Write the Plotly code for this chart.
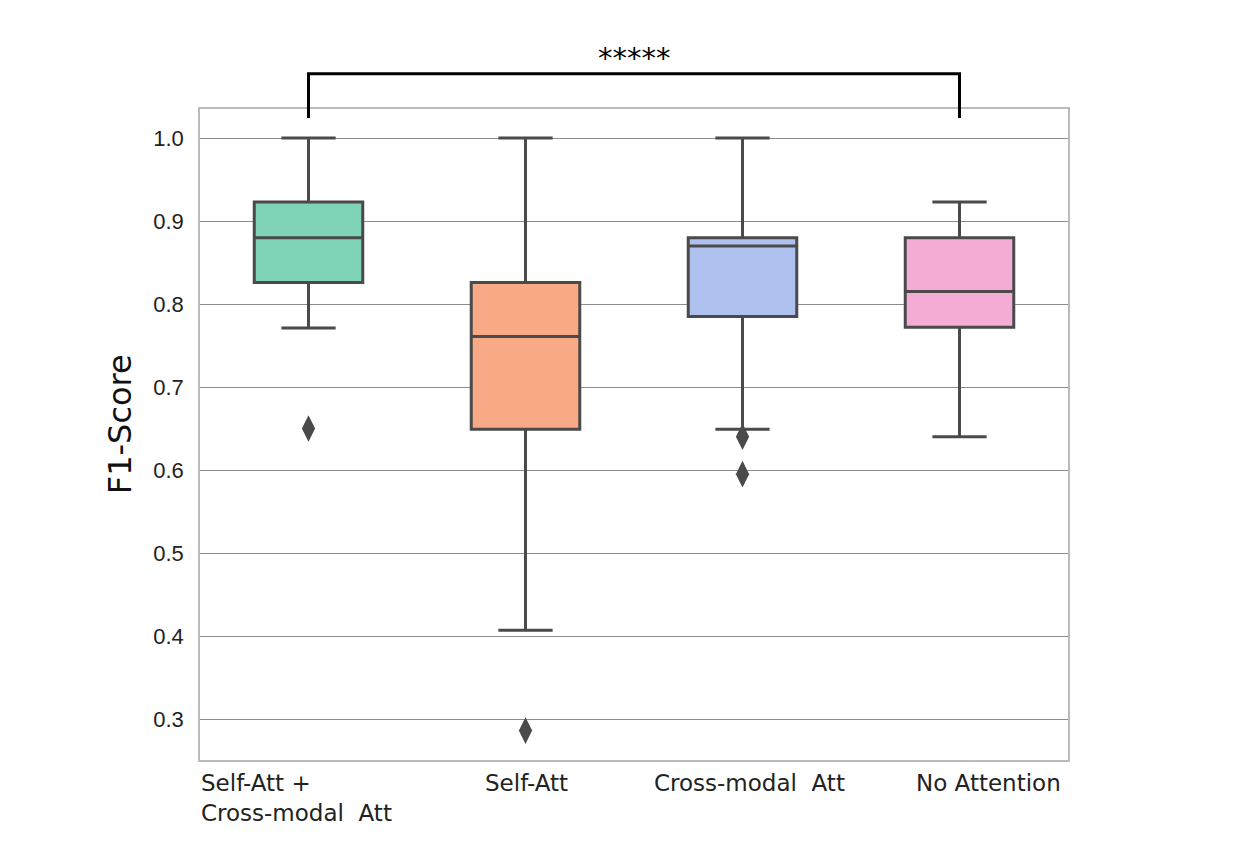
import plotly.graph_objects as go

categories = ["Self-Att +<br>Cross-modal  Att", "Self-Att", "Cross-modal  Att", "No Attention"]
lower_fence = [0.771, 0.407, 0.649, 0.640]
q1 = [0.826, 0.649, 0.785, 0.772]
median = [0.880, 0.761, 0.870, 0.815]
q3 = [0.923, 0.826, 0.880, 0.880]
upper_fence = [1.0, 1.0, 1.0, 0.923]
outlier_cat = [0, 1, 2, 2]
outlier_val = [0.650, 0.286, 0.640, 0.595]
fill_colors = ["#7fd3b6", "#f8a985", "#aec0ee", "#f5acd4"]
y_ticks = [0.3, 0.4, 0.5, 0.6, 0.7, 0.8, 0.9, 1.0]
significance = "*****"

# label placement offsets (pixels), as in the original layout
label_shift = [-12, 1, 7, 29]
label_align = ["left", "center", "center", "center"]

line_col = "#4a4a4a"
fig = go.Figure()
for i, c in enumerate(categories):
    fig.add_trace(go.Box(
        x=[i], q1=[q1[i]], median=[median[i]], q3=[q3[i]],
        lowerfence=[lower_fence[i]], upperfence=[upper_fence[i]],
        width=0.5, whiskerwidth=0.5, fillcolor=fill_colors[i],
        line=dict(color=line_col, width=3), boxpoints=False,
        showlegend=False, hoverinfo="skip"))

fig.add_trace(go.Scatter(
    x=outlier_cat, y=outlier_val, mode="markers",
    marker=dict(symbol="diamond-tall", size=19, color=line_col,
                line=dict(width=0)),
    showlegend=False, hoverinfo="skip"))

# category labels
for i, c in enumerate(categories):
    fig.add_annotation(x=i, y=0, xref="x", yref="paper", text=c,
                       showarrow=False, yanchor="top", xanchor="center",
                       xshift=label_shift[i], yshift=-8, align=label_align[i],
                       font=dict(family="DejaVu Sans", size=23, color="#222"))

# significance bracket
fig.add_shape(type="path", xref="x", yref="paper",
              path="M 0,0.986 L 0,1.054 L 3,1.054 L 3,0.986",
              line=dict(color="black", width=3))
fig.add_annotation(x=1.5, y=1.054, xref="x", yref="paper", text=significance,
                   showarrow=False, yanchor="bottom", yshift=-3,
                   font=dict(family="DejaVu Sans", size=29, color="black"))

# y-axis title
fig.add_annotation(x=-0.092, y=0.516, xref="paper", yref="paper", text="F1-Score",
                   showarrow=False, textangle=-90, xanchor="center", yanchor="middle",
                   font=dict(family="DejaVu Sans", size=32, color="#111"))

fig.update_layout(
    width=1238, height=828,
    margin=dict(l=192, r=178, t=101, b=76),
    paper_bgcolor="white", plot_bgcolor="white",
    font=dict(family="DejaVu Sans", color="#222"),
)
fig.update_xaxes(
    range=[-0.5, 3.5], tickvals=list(range(len(categories))),
    showticklabels=False, showgrid=False, zeroline=False,
    showline=True, mirror=True, linecolor="#bbbbbb", linewidth=1.5, ticks="")
fig.update_yaxes(
    range=[0.2506, 1.035], tickvals=y_ticks,
    ticktext=[f"{v:.1f}" for v in y_ticks],
    showgrid=True, gridcolor="#8c8c8c", gridwidth=1, zeroline=False,
    showline=True, mirror=True, linecolor="#bbbbbb", linewidth=1.5,
    tickfont=dict(family="Liberation Sans", size=22, color="#222"),
    ticks="", ticklabelstandoff=10)

fig.write_html("out.html")
